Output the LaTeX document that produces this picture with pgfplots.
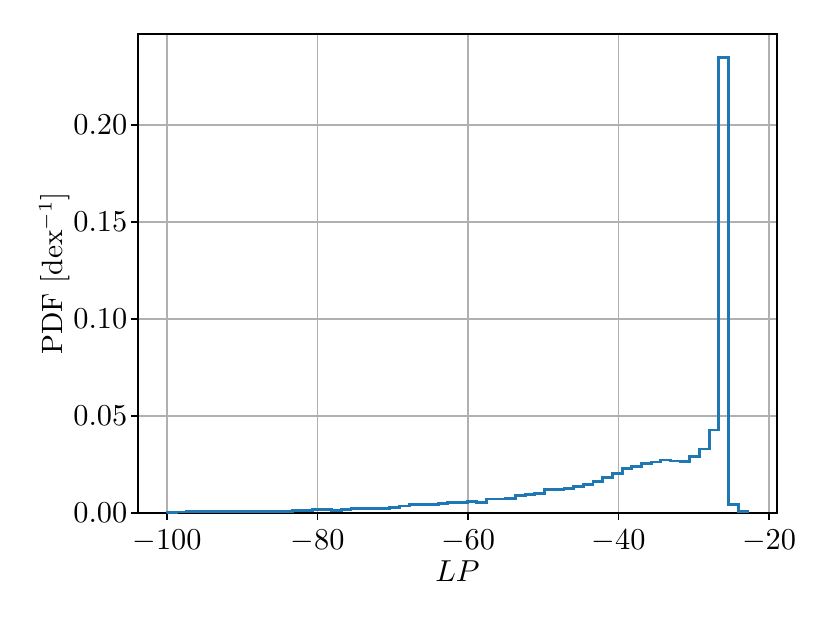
\documentclass[border=0pt]{standalone}
\usepackage{pgfplots}
\pgfplotsset{compat=1.18}
\definecolor{mplblue}{HTML}{1F77B4}
\definecolor{mplgrid}{HTML}{B0B0B0}
\begin{document}
\begin{tikzpicture}
\path[use as bounding box] (0,0) rectangle (300pt,224.9pt);
\begin{axis}[
  at={(49.8pt,39.7pt)}, anchor=south west,
  scale only axis, width=230.7pt, height=172.9pt,
  xmin=-103.86, xmax=-18.94, ymin=0, ymax=0.2469,
  xtick={-100,-80,-60,-40,-20},
  ytick={0,0.05,0.10,0.15,0.20},
  scaled y ticks=false,
  yticklabel style={/pgf/number format/fixed,/pgf/number format/fixed zerofill,/pgf/number format/precision=2, xshift=2.2pt},
  tick label style={font=\fontsize{10.6}{12}\selectfont},
  label style={font=\fontsize{10.6}{12}\selectfont},
  xlabel={$LP$}, ylabel={PDF [dex$^{-1}$]},
  xlabel style={yshift=3.8pt},
  ylabel style={yshift=-5.6pt},
  grid=major, major grid style={color=mplgrid, line width=0.5pt},
  axis line style={line width=0.5pt},
  tick pos=left, tick align=outside, major tick length=2.5pt,
  tick style={black, line width=0.5pt},
]
\addplot[mplblue, line width=1.05pt, const plot mark left, line join=miter] table[row sep=\\] {
x y\\
-100 0\\
-100 0.0004\\
-98.713 0.0005\\
-97.427 0.0006\\
-96.140 0.0006\\
-94.853 0.0007\\
-93.567 0.0007\\
-92.280 0.0008\\
-90.993 0.0008\\
-89.706 0.0008\\
-88.420 0.0009\\
-87.133 0.0009\\
-85.846 0.0010\\
-84.560 0.0010\\
-83.273 0.0011\\
-81.986 0.0012\\
-80.700 0.0017\\
-79.413 0.0020\\
-78.126 0.0014\\
-76.839 0.0016\\
-75.553 0.0022\\
-74.266 0.0024\\
-72.979 0.0025\\
-71.693 0.0025\\
-70.406 0.0030\\
-69.119 0.0036\\
-67.833 0.0043\\
-66.546 0.0045\\
-65.259 0.0046\\
-63.972 0.0050\\
-62.686 0.0052\\
-61.399 0.0056\\
-60.112 0.0058\\
-58.826 0.0053\\
-57.539 0.0072\\
-56.252 0.0072\\
-54.966 0.0077\\
-53.679 0.0088\\
-52.392 0.0096\\
-51.105 0.0101\\
-49.819 0.0119\\
-48.532 0.0120\\
-47.245 0.0127\\
-45.959 0.0136\\
-44.672 0.0148\\
-43.385 0.0161\\
-42.099 0.0182\\
-40.812 0.0205\\
-39.525 0.0230\\
-38.238 0.0242\\
-36.952 0.0253\\
-35.665 0.0263\\
-34.378 0.0273\\
-33.092 0.0268\\
-31.805 0.0266\\
-30.518 0.0290\\
-29.232 0.0330\\
-27.945 0.0428\\
-26.658 0.2350\\
-25.371 0.0046\\
-24.085 0.0006\\
-22.798 0.0006\\
-22.798 0\\
};
\end{axis}
\end{tikzpicture}
\end{document}
